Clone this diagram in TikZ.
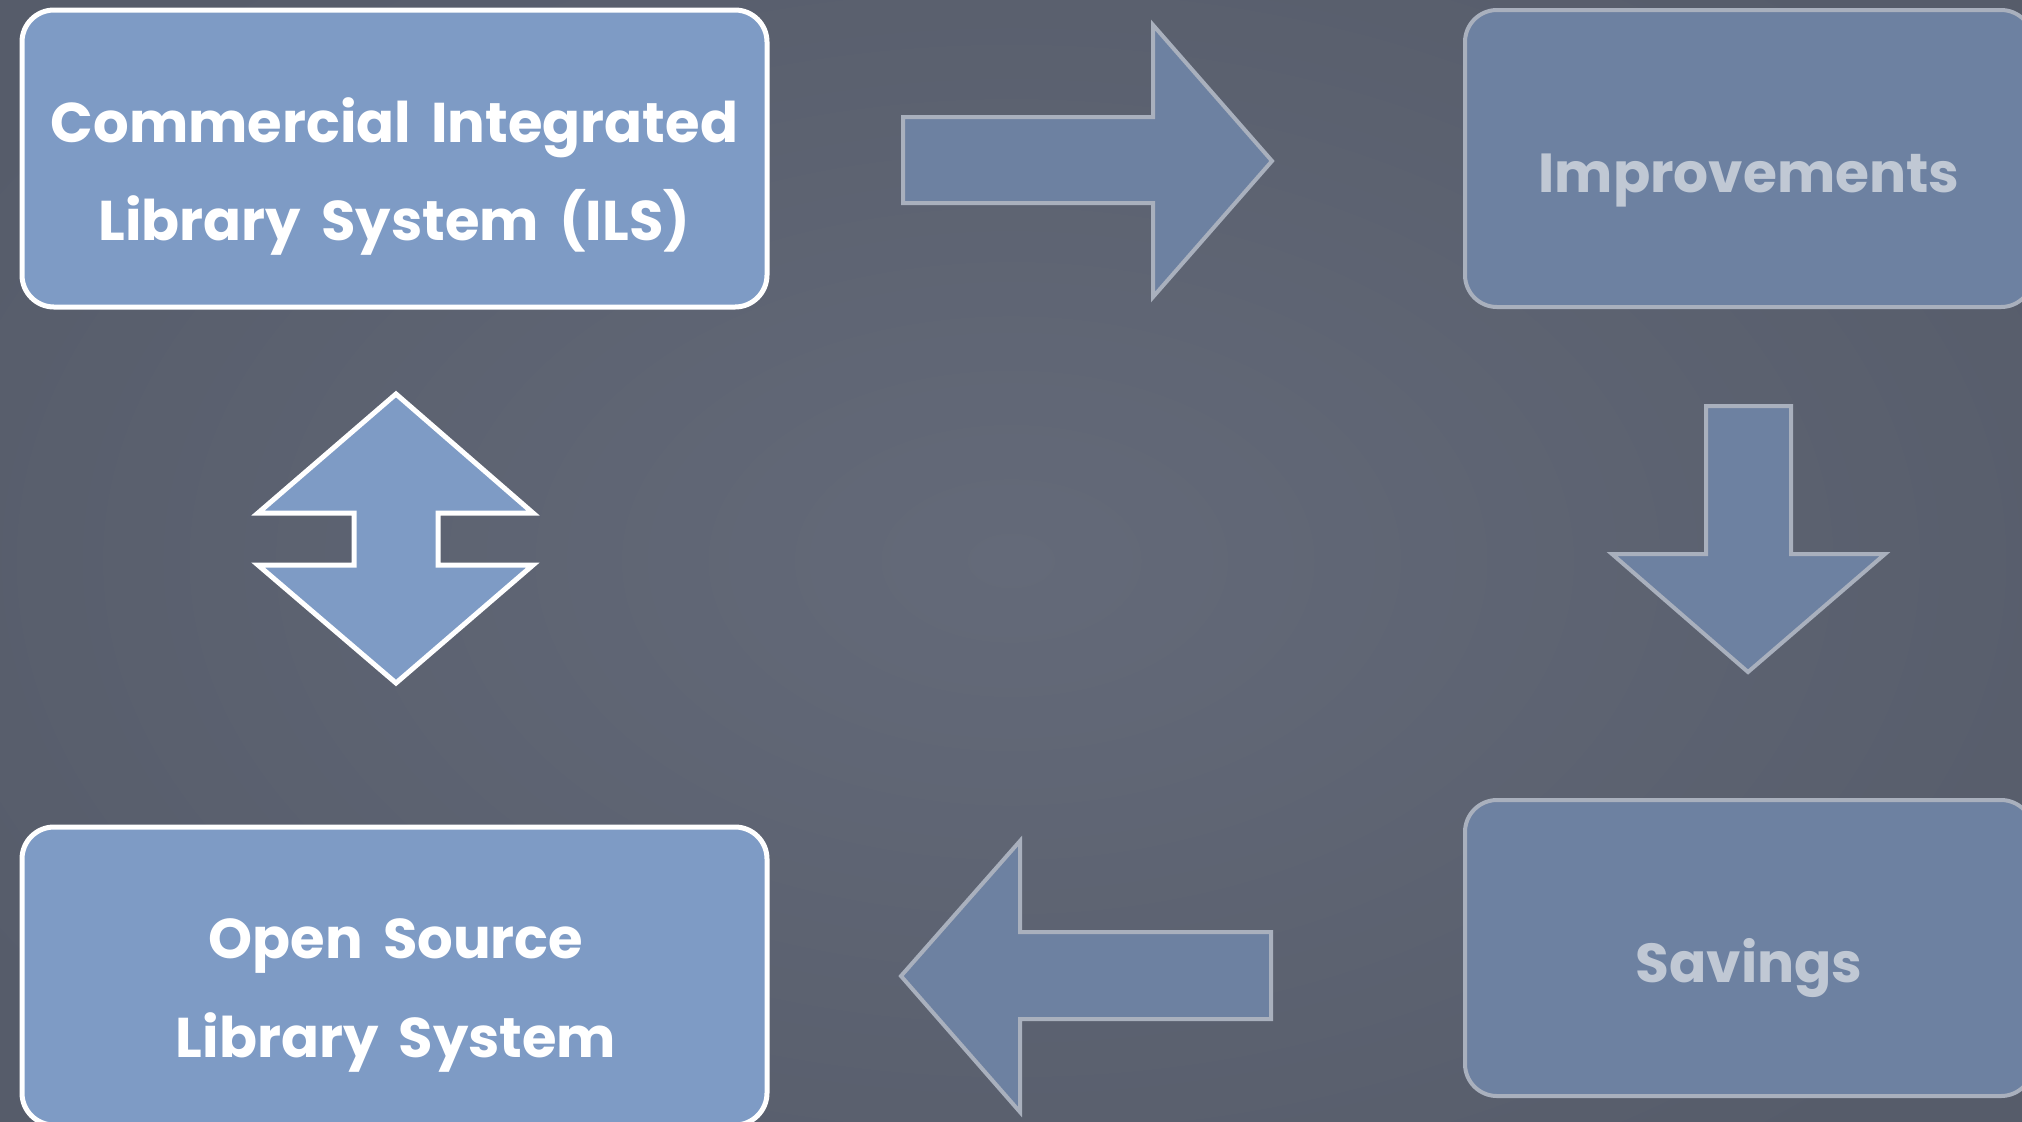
\documentclass[tikz,border=0pt]{standalone}
\usepackage{fontspec}
\setmainfont{Poppins}[WordSpace=1.7]
\begin{document}
\begin{tikzpicture}[x=0.5pt,y=-0.5pt]
\definecolor{bgA}{HTML}{646A79}
\definecolor{bgB}{HTML}{565C6A}
\definecolor{brightfill}{HTML}{7E9BC5}
\definecolor{dimfill}{HTML}{6D81A1}
\definecolor{dimline}{HTML}{A9B0BD}
\definecolor{dimtext}{HTML}{C0C8D4}
\tikzset{
  brightbox/.style={draw=white, line width=2.5pt, fill=brightfill, rounded corners=16pt, inner sep=0pt},
  dimbox/.style={draw=dimline, line width=2pt, fill=dimfill, rounded corners=16pt, inner sep=0pt},
  brightarrow/.style={draw=white, line width=2.5pt, fill=brightfill, line join=miter},
  dimarrow/.style={draw=dimline, line width=2pt, fill=dimfill, line join=miter},
  brighttext/.style={text=white, font=\bfseries\fontsize{28}{34}\selectfont, anchor=base, inner sep=0pt},
  dimtxt/.style={text=dimtext, font=\bfseries\fontsize{27.5}{34}\selectfont, anchor=base, inner sep=0pt},
}
\useasboundingbox (0,0) rectangle (2022,1121);
\clip (0,0) rectangle (2022,1121);
\shade[inner color=bgA, outer color=bgB] (-200,-200) rectangle (2222,1321);

% boxes
\node[brightbox, minimum width=372.5pt, minimum height=148.5pt] (ils) at (394.5,158.5) {};
\node[dimbox, minimum width=284pt, minimum height=148.5pt] (impr) at (1749,158.5) {};
\node[dimbox, minimum width=284pt, minimum height=148pt] (sav) at (1749,948) {};
\node[brightbox, minimum width=372.5pt, minimum height=149pt] (oss) at (394.5,976) {};

% texts
\node[brighttext] (ilsA) at (394.5,142) {Commercial Integrated};
\node[brighttext] (ilsB) at (394.5,240) {Library System (ILS)};
\node[dimtxt] (imprT) at (1749,192) {Improvements};
\node[dimtxt] (savT) at (1749,982) {Savings};
\node[brighttext] (ossA) at (396,958) {Open Source};
\node[brighttext] (ossB) at (396,1057) {Library System};

% arrows
\draw[dimarrow] (903,117) -- (1153,117) -- (1153,25) -- (1272,161) -- (1153,297) -- (1153,203) -- (903,203) -- cycle;
\draw[dimarrow] (1706,406) -- (1791,406) -- (1791,554) -- (1885,554) -- (1748,672) -- (1612,554) -- (1706,554) -- cycle;
\draw[dimarrow] (901,976) -- (1020,841) -- (1020,932) -- (1271,932) -- (1271,1019) -- (1020,1019) -- (1020,1112) -- cycle;
\draw[brightarrow] (396,394) -- (533,513) -- (438,513) -- (438,565) -- (533,565) -- (396,683) -- (258,565) -- (354,565) -- (354,513) -- (258,513) -- cycle;
\end{tikzpicture}
\end{document}
